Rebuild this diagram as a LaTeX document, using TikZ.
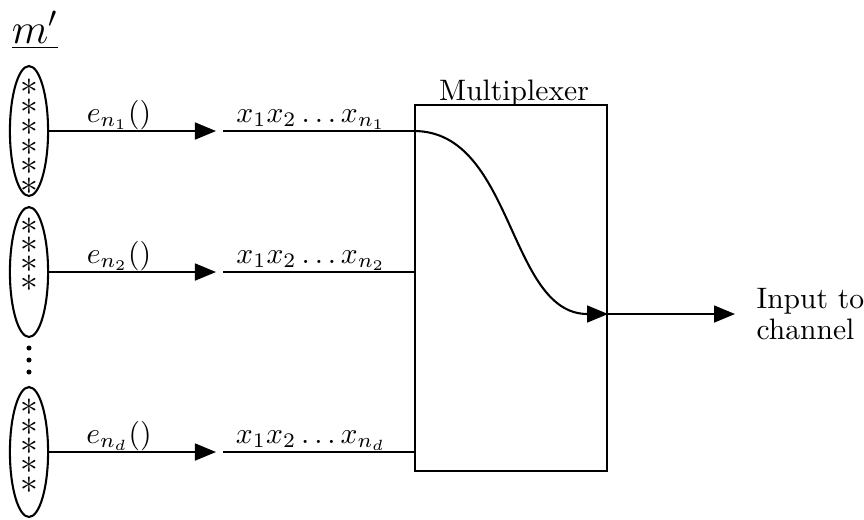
\documentclass[tikz,border=0pt]{standalone}
\usetikzlibrary{arrows.meta,shapes.geometric}
\begin{document}
\begin{tikzpicture}[x=0.338pt,y=-0.338pt,
  wire/.style={line width=0.7pt},
  arr/.style={line width=0.7pt,-{Triangle[length=7.1pt,width=5.7pt]}},
  ell/.style={draw,line width=0.7pt,ellipse,inner sep=0pt,minimum width=12.9pt,minimum height=43.9pt},
  star/.style={inner sep=0pt,font=\large},
  lbl/.style={anchor=base,inner sep=0pt},
  dotn/.style={circle,fill,inner sep=0pt,minimum size=1.7pt},
  box/.style={draw,line width=0.7pt,inner sep=0pt,minimum width=64.9pt,minimum height=123.7pt}]
\useasboundingbox (0,0) rectangle (864,519);

\node[inner sep=0pt] (m) at (35,30) {\Large\underline{$m'$}};

% ellipses
\node[ell] (E1) at (29,131) {};
\node[ell] (E2) at (29,272) {};
\node[ell] (E3) at (29,452) {};

% stars
\foreach \i/\yy in {1/87,2/107,3/127,4/147,5/166,6/186}
  \node[star] (sa\i) at (29,\yy) {$\ast$};
\foreach \i/\yy in {1/226,2/245,3/264,4/283}
  \node[star] (sb\i) at (29,\yy) {$\ast$};
\foreach \i/\yy in {1/407,2/427,3/446,4/465,5/485}
  \node[star] (sc\i) at (29,\yy) {$\ast$};

% vertical dots
\node[dotn] (d1) at (29,348) {};
\node[dotn] (d2) at (29,360) {};
\node[dotn] (d3) at (29,372) {};

% multiplexer box
\node[box] (mux) at (511,288) {};
\node[lbl] (muxl) at (514,100) {Multiplexer};

% arrow tips / starts
\coordinate (t1) at (216,131);
\coordinate (t2) at (216,272);
\coordinate (t3) at (216,452);
\coordinate (b1) at (223,131);
\coordinate (b2) at (223,272);
\coordinate (b3) at (223,452);
\coordinate (o) at (mux.east |- 0,314);
\coordinate (t4) at (735,314);

\draw[arr] (E1.east) -- (t1);
\draw[arr] (E2.east) -- (t2);
\draw[arr] (E3.east) -- (t3);
\draw[wire] (b1) -- (b1 -| mux.west);
\draw[wire] (b2) -- (b2 -| mux.west);
\draw[wire] (b3) -- (b3 -| mux.west);

\node[lbl] (e1) at (119,122) {$e_{n_1}()$};
\node[lbl] (e2) at (119,263) {$e_{n_2}()$};
\node[lbl] (e3) at (119,443) {$e_{n_d}()$};
\node[lbl] (x1) at (311,122) {$x_1x_2\ldots x_{n_1}$};
\node[lbl] (x2) at (311,263) {$x_1x_2\ldots x_{n_2}$};
\node[lbl] (x3) at (311,443) {$x_1x_2\ldots x_{n_d}$};

\draw[arr] (b1 -| mux.west) .. controls +(100,0) and +(-100,0) .. (o);
\draw[arr] (o) -- (t4);

\node[anchor=west,align=left,inner sep=0pt] (inp) at (756,314) {Input to\\[-1.5pt]channel};
\end{tikzpicture}
\end{document}
